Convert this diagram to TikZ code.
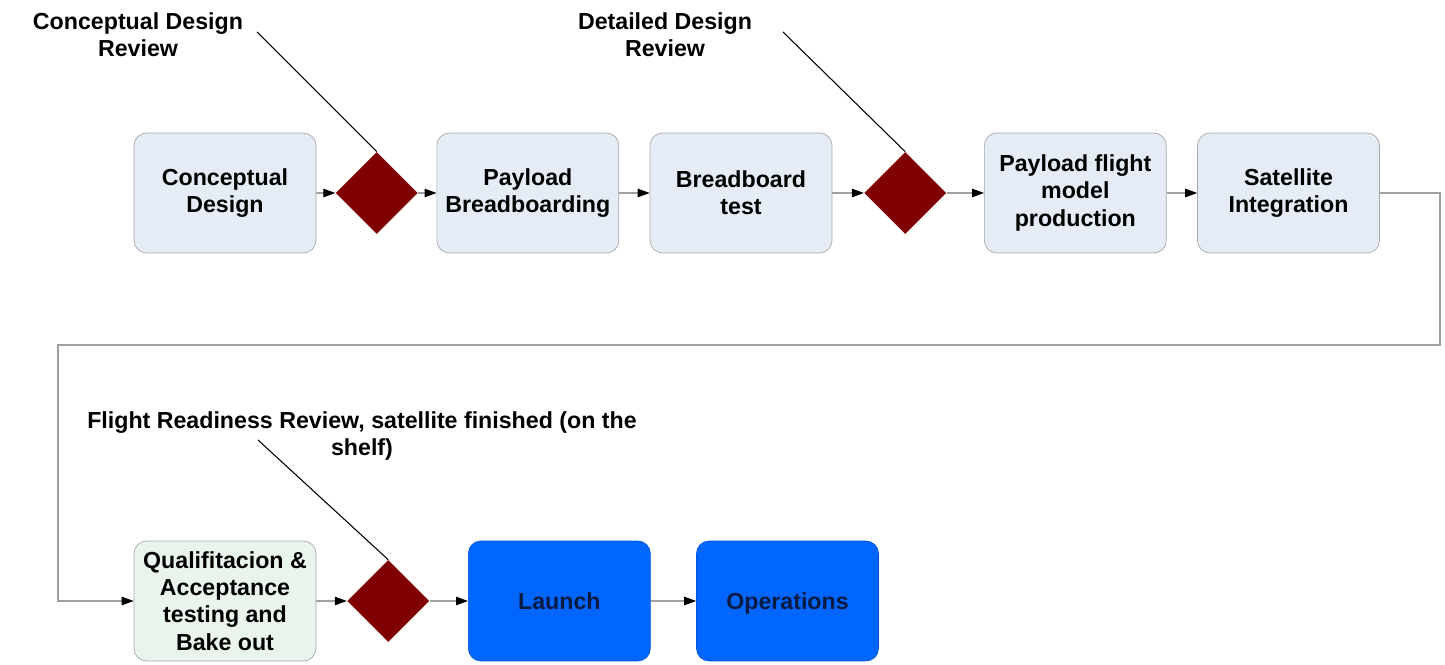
\documentclass[tikz,border=0pt]{standalone}
\usepackage{fontspec}
\setmainfont{Liberation Sans}
\usetikzlibrary{shapes.geometric,arrows.meta,positioning}
\definecolor{boxfill}{HTML}{E6ECF6}
\definecolor{boxline}{HTML}{A8A8A8}
\definecolor{greenfill}{HTML}{E9F5EC}
\definecolor{bluefill}{HTML}{0066FF}
\definecolor{bluetext}{HTML}{0A1A40}
\definecolor{gate}{HTML}{800000}
\definecolor{flowline}{HTML}{A0A0A0}
\tikzstyle{phase} = [rectangle, rounded corners=0.25cm, minimum width=3.64cm, minimum height=2.4cm, align=center, draw=boxline, fill=boxfill, font=\bfseries\fontsize{13.2}{15.6}\selectfont]
\tikzstyle{testphase} = [phase, fill=greenfill]
\tikzstyle{flightphase} = [phase, fill=bluefill, draw=bluefill!85!black, text=bluetext, text height=1.9ex, text depth=0.1ex]
\tikzstyle{review} = [diamond, minimum width=1.64cm, minimum height=1.64cm, inner sep=0pt, fill=gate]
\tikzstyle{milestone} = [align=center, inner sep=0pt, font=\bfseries\fontsize{13.2}{15.6}\selectfont]
\tikzstyle{arrow} = [flowline, line width=0.6pt, -{Triangle[length=0.24cm, width=0.17cm, color=black]}]
\tikzstyle{leader} = [black, line width=0.6pt]

\begin{document}
\begin{tikzpicture}[x=0.02cm, y=-0.02cm]
\useasboundingbox (0,0) rectangle (1445,665);

% upper row
\node (concept) [phase] at (225,193) {Conceptual\\Design};
\node (cdr) [review, right=0.38cm of concept] {};
\node (bread) [phase, right=0.37cm of cdr] {Payload\\Breadboarding};
\node (btest) [phase, right=0.61cm of bread] {Breadboard\\test};
\node (ddr) [review, right=0.63cm of btest] {};
\node (fmodel) [phase, right=0.75cm of ddr] {Payload flight\\model\\production};
\node (integ) [phase, right=0.61cm of fmodel] {Satellite\\Integration};
%
% lower row
\node (qual) [testphase] at (225,601) {Qualifitacion \&\\Acceptance\\testing and\\Bake out};
\node (frr) [review, right=0.61cm of qual] {};
\node (launch) [flightphase, right=0.77cm of frr] {Launch};
\node (ops) [flightphase, right=0.91cm of launch] {Operations};
%
% review labels
\node (cdrtext) [milestone] at (138,35) {Conceptual Design\\Review};
\node (ddrtext) [milestone] at (665,35) {Detailed Design\\Review};
\node (frrtext) [milestone] at (362,436) {Flight Readiness Review, satellite finished (on the\\shelf)};
\coordinate (cdrfoot) at (257,32);
\coordinate (ddrfoot) at (783,32);
\coordinate (frrfoot) at (258,440);
\coordinate (loopright) at (1440,345);
\coordinate (loopleft) at (58,345);

\draw [arrow] (concept) -- (cdr);
\draw [arrow] (cdr) -- (bread);
\draw [arrow] (bread) -- (btest);
\draw [arrow] (btest) -- (ddr);
\draw [arrow] (ddr) -- (fmodel);
\draw [arrow] (fmodel) -- (integ);
\draw [arrow] (integ.east) -| (loopright) -- (loopleft) |- (qual.west);
\draw [arrow] (qual) -- (frr);
\draw [arrow] (frr) -- (launch);
\draw [arrow] (launch) -- (ops);

\draw [leader] (cdrfoot) -- (cdr.north);
\draw [leader] (ddrfoot) -- (ddr.north);
\draw [leader] (frrfoot) -- (frr.north);

\end{tikzpicture}
\end{document}
